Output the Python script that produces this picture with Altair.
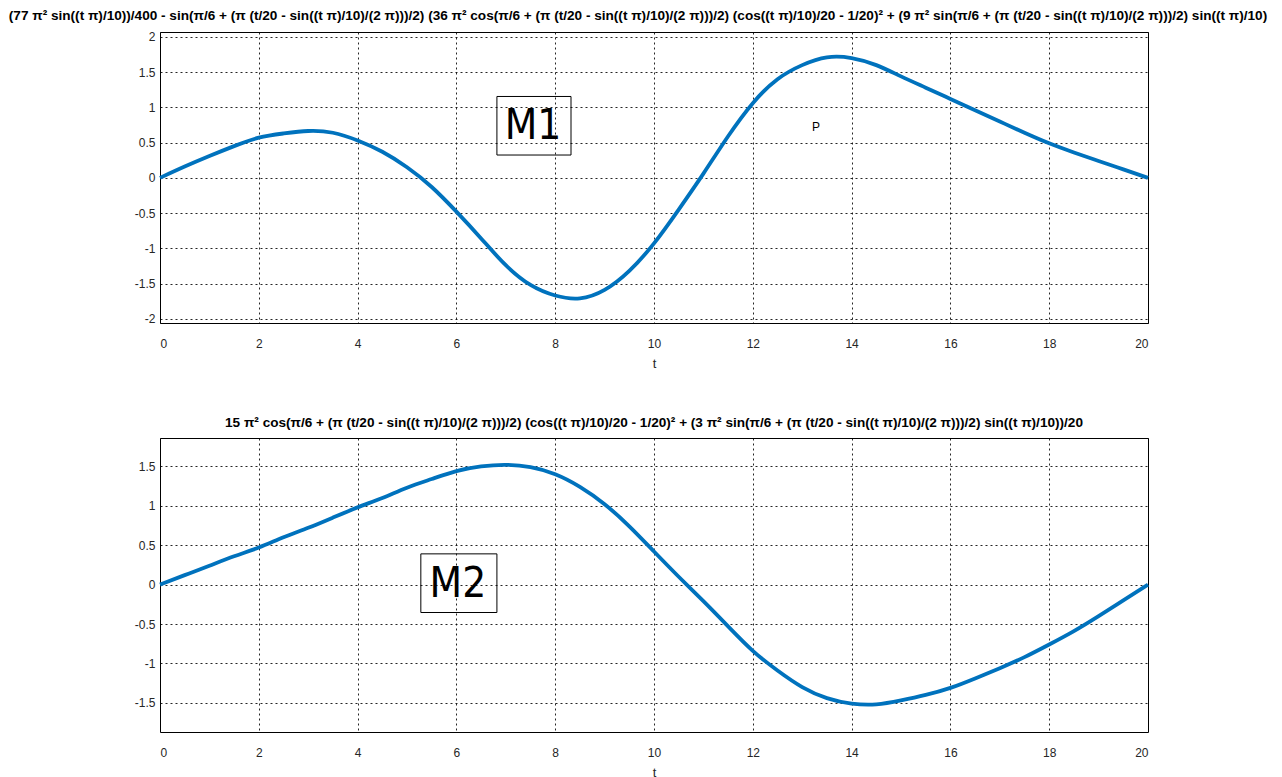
import altair as alt
import pandas as pd

# ---- data ----
t_vals = [0, 0.5, 1, 1.5, 2, 2.5, 3, 3.5, 4, 4.5, 5, 5.5, 6, 6.5, 7, 7.5, 8, 8.5, 9, 9.5,
          10, 10.5, 11, 11.5, 12, 12.5, 13, 13.5, 14, 14.5, 15, 15.5, 16, 16.5, 17, 17.5,
          18, 18.5, 19, 19.5, 20]
m1_vals = [0, 0.16, 0.31, 0.45, 0.57, 0.63, 0.665, 0.64, 0.53, 0.37, 0.15, -0.13, -0.48, -0.86,
           -1.24, -1.52, -1.67, -1.71, -1.59, -1.32, -0.93, -0.45, 0.06, 0.59, 1.06, 1.40, 1.60,
           1.71, 1.70, 1.60, 1.44, 1.28, 1.12, 0.96, 0.80, 0.64, 0.49, 0.36, 0.24, 0.12, 0]
m2_vals = [0, 0.12, 0.24, 0.36, 0.47, 0.60, 0.72, 0.85, 0.98, 1.10, 1.23, 1.34, 1.44, 1.50,
           1.52, 1.49, 1.40, 1.24, 1.02, 0.74, 0.42, 0.10, -0.21, -0.53, -0.84, -1.09, -1.30,
           -1.44, -1.51, -1.52, -1.47, -1.40, -1.31, -1.19, -1.06, -0.92, -0.76, -0.59, -0.40,
           -0.20, 0]

x_ticks = [0, 2, 4, 6, 8, 10, 12, 14, 16, 18, 20]
y_ticks_top = [-2, -1.5, -1, -0.5, 0, 0.5, 1, 1.5, 2]
y_ticks_bot = [-1.5, -1, -0.5, 0, 0.5, 1, 1.5]

title_top = ("(77 π² sin((t π)/10))/400 - sin(π/6 + (π (t/20 - sin((t π)/10)/(2 π)))/2) "
             "(36 π² cos(π/6 + (π (t/20 - sin((t π)/10)/(2 π)))/2) (cos((t π)/10)/20 - 1/20)² "
             "+ (9 π² sin(π/6 + (π (t/20 - sin((t π)/10)/(2 π)))/2) sin((t π)/10)")
title_bot = ("15 π² cos(π/6 + (π (t/20 - sin((t π)/10)/(2 π)))/2) (cos((t π)/10)/20 - 1/20)² "
             "+ (3 π² sin(π/6 + (π (t/20 - sin((t π)/10)/(2 π)))/2) sin((t π)/10))/20")

# annotation boxes / labels (data coordinates)
box1 = pd.DataFrame({"x": [6.82], "x2": [8.32], "y": [1.155], "y2": [0.324]})
lab1 = pd.DataFrame({"x": [7.55], "y": [0.74], "txt": ["M1"]})
labP = pd.DataFrame({"x": [13.28], "y": [0.72], "txt": ["P"]})
box2 = pd.DataFrame({"x": [5.28], "x2": [6.82], "y": [0.39], "y2": [-0.354]})
lab2 = pd.DataFrame({"x": [6.03], "y": [0.01], "txt": ["M2"]})

FONT = "Liberation Sans"
NARROW = "Liberation Sans Narrow, DejaVu Sans Condensed, Liberation Sans"
BLUE = "#0072BD"
W = 988


def make_panel(vals, ydom, yticks, title, box, labels, dx, h):
    df = pd.DataFrame({"t": t_vals, "v": vals})
    xs = alt.Scale(domain=[0, 20], nice=False, zero=False)
    ys = alt.Scale(domain=ydom, nice=False, zero=False)
    xaxis = alt.Axis(values=x_ticks, title="t", grid=True, ticks=False, domain=False,
                     labelPadding=15, titlePadding=8, labelOverlap=False,
                     labelExpr="toString(datum.value)")
    yaxis = alt.Axis(values=yticks, title=None, grid=True, ticks=False, domain=False,
                     labelPadding=5, labelOverlap=False,
                     labelExpr="toString(datum.value)")
    line = alt.Chart(df).mark_line(color=BLUE, strokeWidth=3.8, interpolate="natural").encode(
        x=alt.X("t:Q", scale=xs, axis=xaxis),
        y=alt.Y("v:Q", scale=ys, axis=yaxis),
    )
    rect = alt.Chart(box).mark_rect(fill=None, stroke="#000000", strokeWidth=1).encode(
        x=alt.X("x:Q", scale=xs, axis=xaxis), x2="x2:Q",
        y=alt.Y("y:Q", scale=ys, axis=yaxis), y2="y2:Q",
    )
    layers = [line, rect]
    for lab, size, fnt in labels:
        layers.append(
            alt.Chart(lab).mark_text(font=fnt, fontSize=size, color="#000000",
                                     align="center", baseline="middle").encode(
                x=alt.X("x:Q", scale=xs, axis=xaxis),
                y=alt.Y("y:Q", scale=ys, axis=yaxis), text="txt:N")
        )
    return alt.layer(*layers).properties(
        width=W, height=h,
        title=alt.TitleParams(title, fontSize=13.6, font=FONT, fontWeight="bold",
                              color="#000000", anchor="middle", offset=8, limit=0, dx=dx),
    )


top = make_panel(m1_vals, [-2.06, 2.07], y_ticks_top, title_top, box1,
                 [(lab1, 42, NARROW), (labP, 12, FONT)], -16, 291)
bot = make_panel(m2_vals, [-1.87, 1.86], y_ticks_bot, title_bot, box2,
                 [(lab2, 42, NARROW)], 0, 294)

chart = alt.vconcat(top, bot, spacing=44).properties(padding=0).configure_view(
    stroke="#000000", strokeWidth=1
).configure_axis(
    labelFont=FONT, labelFontSize=12, labelColor="#262626",
    titleFont=FONT, titleFontSize=13, titleColor="#262626", titleFontWeight="normal",
    gridColor="#000000", gridDash=[2, 3], gridOpacity=0.85, gridWidth=1,
)

chart.save("out.html", embed_options={"renderer": "svg", "actions": False})
